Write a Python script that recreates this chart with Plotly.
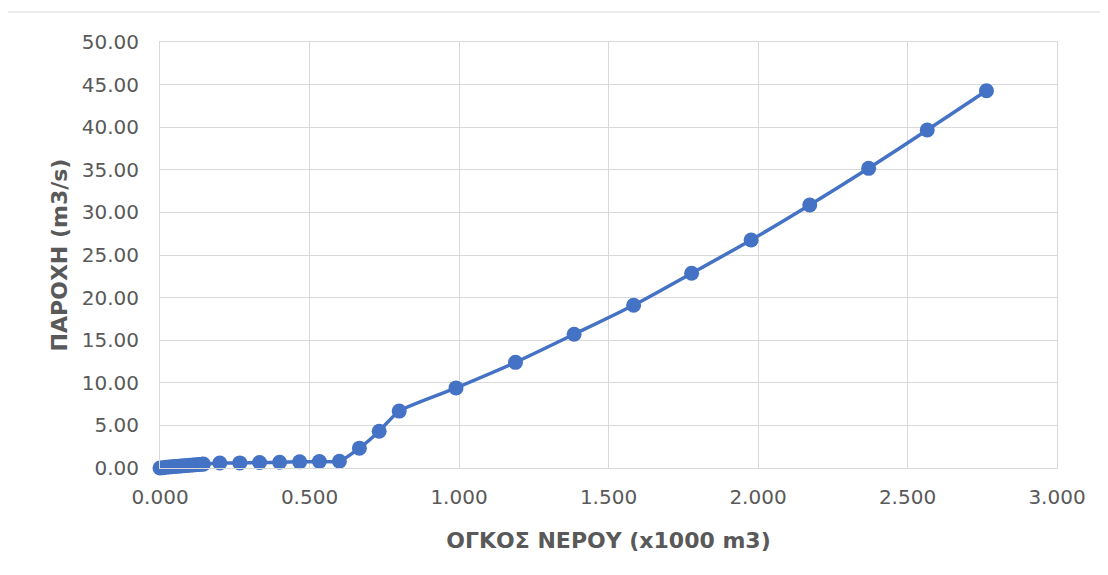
import plotly.graph_objects as go

# Volume of water (x1000 m3)
volume = [0.000, 0.010, 0.020, 0.030, 0.040, 0.050, 0.060, 0.070, 0.080, 0.090,
          0.100, 0.110, 0.120, 0.130, 0.140, 0.145,
          0.200, 0.267, 0.333, 0.400, 0.467, 0.533, 0.600, 0.667, 0.733, 0.800,
          0.990, 1.189, 1.385, 1.584, 1.778, 1.977, 2.173, 2.370, 2.566, 2.764]
# Discharge (m3/s)
flow = [0.00, 0.04, 0.08, 0.11, 0.14, 0.17, 0.20, 0.23, 0.26, 0.29,
        0.32, 0.35, 0.38, 0.41, 0.44, 0.46,
        0.58, 0.60, 0.64, 0.68, 0.72, 0.76, 0.80, 2.33, 4.32, 6.68,
        9.40, 12.40, 15.70, 19.10, 22.85, 26.76, 30.87, 35.17, 39.67, 44.28]

x_title = "ΟΓΚΟΣ ΝΕΡΟΥ (x1000 m3)"
y_title = "ΠΑΡΟΧΗ (m3/s)"

BLUE = "#4472c4"
GRID = "#d9d9d9"
TXT = "#595959"
FONT = "DejaVu Sans"

fig = go.Figure()
fig.add_trace(go.Scatter(
    x=volume, y=flow, mode="lines+markers",
    line=dict(color=BLUE, width=3.5, shape="spline", smoothing=0.6),
    marker=dict(color=BLUE, size=15),
    cliponaxis=False, showlegend=False,
))

fig.update_layout(
    width=1092, height=559,
    margin=dict(l=152, r=43, t=34, b=99),
    paper_bgcolor="white", plot_bgcolor="white",
    font=dict(family=FONT, color=TXT, size=20),
    xaxis=dict(
        range=[0, 3], dtick=0.5, tick0=0, tickformat=".3f",
        showgrid=True, gridcolor=GRID, gridwidth=1,
        zeroline=False, showline=True, mirror=True, linecolor=GRID, linewidth=1,
        ticks="", ticklabelstandoff=11,
        tickfont=dict(family=FONT, size=20, color=TXT),
        title=dict(text=x_title, font=dict(family=FONT, size=22, color=TXT, weight="bold"),
                   standoff=24),
    ),
    yaxis=dict(
        range=[0, 50], dtick=5, tick0=0, tickformat=".2f",
        showgrid=True, gridcolor=GRID, gridwidth=1,
        zeroline=False, showline=True, mirror=True, linecolor=GRID, linewidth=1,
        ticks="", ticklabelstandoff=16,
        tickfont=dict(family=FONT, size=20, color=TXT),
        title=dict(text=y_title, font=dict(family=FONT, size=22, color=TXT, weight="bold"),
                   standoff=8),
    ),
)

# outer chart border (extends past the right and bottom of the view)
fig.add_shape(type="rect", xref="paper", yref="paper",
              x0=(6 - 160) / 897, x1=1.2, y0=-0.5, y1=(468 - 12) / 426,
              line=dict(color=GRID, width=1), fillcolor="rgba(0,0,0,0)", layer="below")

fig.write_html("out.html")
